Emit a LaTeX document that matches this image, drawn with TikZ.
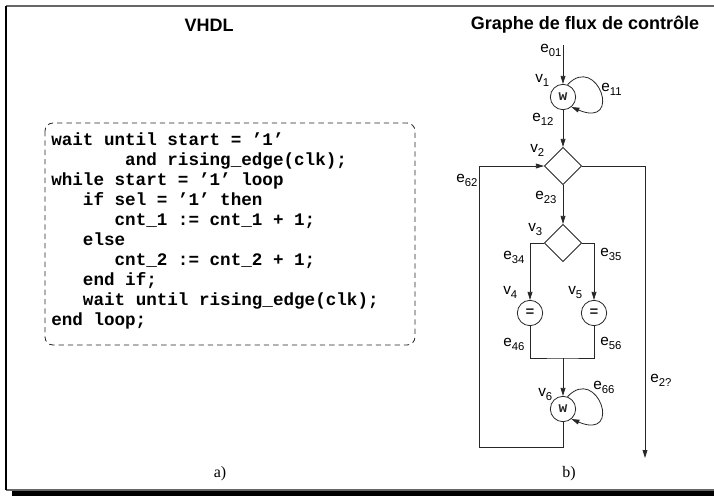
\documentclass[tikz,border=0pt]{standalone}
\usepackage{fontspec}
\setmainfont{Liberation Sans}
\newfontfamily\codefont{Liberation Mono}
\newfontfamily\serifnt{Liberation Serif}
\usetikzlibrary{arrows.meta,shapes.geometric}
\newcommand{\lbl}[2]{#1\raisebox{-3pt}{\fontsize{8.5}{8.5}\selectfont #2}}
\newcommand{\qone}{\textquoteright 1\textquoteright}
\tikzset{
  px/.style={x=0.75pt,y=-0.75pt},
  ln/.style={line width=0.6pt,black!85},
  arr/.style={ln,-{Triangle[length=6pt,width=3.6pt]}},
  op/.style={circle,draw,ln,minimum size=19pt,inner sep=0pt,font=\codefont\bfseries\fontsize{11}{11}\selectfont},
  dec/.style={diamond,draw,ln,minimum width=28pt,minimum height=28pt,inner sep=0pt},
  lab/.style={anchor=base west,inner sep=0pt,font=\fontsize{11.5}{11.5}\selectfont},
  ttl/.style={font=\bfseries\fontsize{13.5}{15}\selectfont},
  sublab/.style={font=\serifnt\fontsize{12}{14}\selectfont},
  codetext/.style={anchor=base west,inner sep=0pt,font=\codefont\bfseries\fontsize{13.2}{15}\selectfont},
}
\begin{document}
\begin{tikzpicture}[px]
\useasboundingbox (0,0) rectangle (714,496);
% frame
\fill[black] (12,491) rectangle (714,496);
\draw[line width=0.8pt,black!60] (6,6) -- (714,6);
\draw[line width=0.8pt,black!60] (6,490) -- (714,490);
\draw[line width=0.9pt,black] (6,6) -- (6,490);
% titles
\node[ttl] (t1) at (209,25) {VHDL};
\node[ttl] (t2) at (585,25) {Graphe de flux de contr\^ole};
\node[sublab] (sa) at (220,474) {a)};
\node[sublab] (sb) at (569,474) {b)};
% code box
\draw[ln,dashed,dash pattern=on 4pt off 3pt,rounded corners=6pt] (45,123) rectangle (415,345);
\node[codetext] (code) at (51,145)
{\vtop{\baselineskip=15pt
\hbox{wait until start = \qone}
\hbox{\ \ \ \ \ \ \ and rising\_edge(clk);}
\hbox{while start = \qone\ loop}
\hbox{\ \ \ if sel = \qone\ then}
\hbox{\ \ \ \ \ \ cnt\_1 := cnt\_1 + 1;}
\hbox{\ \ \ else}
\hbox{\ \ \ \ \ \ cnt\_2 := cnt\_2 + 1;}
\hbox{\ \ \ end if;}
\hbox{\ \ \ wait until rising\_edge(clk);}
\hbox{end loop;}}};
% graph nodes
\coordinate (in) at (563,45);
\node[op] (v1) at (563,97) {w};
\node[dec] (v2) at (563,166) {};
\node[dec] (v3) at (563,243) {};
\node[op] (v4) at (530,313) {=};
\node[op] (v5) at (594,313) {=};
\node[op] (v6) at (563,409) {w};
\coordinate (j) at (563,358);
\coordinate (b1) at (479,447);
\coordinate (r1) at (645,166);
\coordinate (out) at (645,458);
% edges
\draw[arr] (in) -- (v1);
\draw[arr] (v1) -- (v2);
\draw[arr] (v2) -- (v3);
\draw[arr] (v3.west) -| (v4);
\draw[arr] (v3.east) -| (v5);
\draw[ln] (v4.south) |- (j) -| (v5.south);
\draw[arr] (j) -- (v6);
\draw[arr] (v6.south) |- (b1) |- (v2.west);
\draw[arr] (v2.east) -- (r1) -- (out);
\draw[arr] (v1.70) .. controls +(30,-32) and +(52,22) .. (v1.-50);
\draw[arr] (v6.70) .. controls +(30,-32) and +(52,22) .. (v6.-50);
% labels
\node[lab] (l01) at (540,52) {\lbl{e}{01}};
\node[lab] (lv1) at (535,82) {\lbl{v}{1}};
\node[lab] (l11) at (601,91) {\lbl{e}{11}};
\node[lab] (l12) at (532,121) {\lbl{e}{12}};
\node[lab] (lv2) at (530,152) {\lbl{v}{2}};
\node[lab] (l62) at (456,182) {\lbl{e}{62}};
\node[lab] (l23) at (535,199) {\lbl{e}{23}};
\node[lab] (lv3) at (528,231) {\lbl{v}{3}};
\node[lab] (l34) at (503,259) {\lbl{e}{34}};
\node[lab] (l35) at (600,256) {\lbl{e}{35}};
\node[lab] (lv4) at (503,294) {\lbl{v}{4}};
\node[lab] (lv5) at (568,294) {\lbl{v}{5}};
\node[lab] (l46) at (503,346) {\lbl{e}{46}};
\node[lab] (l56) at (600,345) {\lbl{e}{56}};
\node[lab] (lv6) at (538,396) {\lbl{v}{6}};
\node[lab] (l66) at (593,389) {\lbl{e}{66}};
\node[lab] (l2x) at (650,382) {\lbl{e}{2?}};
\end{tikzpicture}
\end{document}
